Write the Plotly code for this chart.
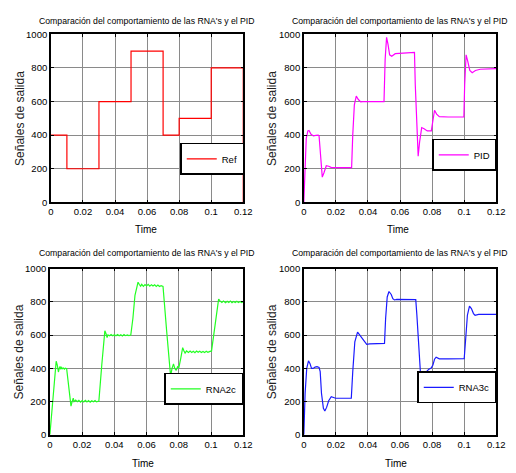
import plotly.graph_objects as go

# ---------------- data ----------------
ref_step_t = [0, 0.01, 0.03, 0.05, 0.07, 0.08, 0.10, 0.12, 0.12]
ref_step_v = [400, 200, 600, 900, 400, 500, 800, 800, 0]

pid_t = [0, 0.0008, 0.0015, 0.0025, 0.0032, 0.0045, 0.006, 0.0075, 0.009, 0.0095,
         0.0105, 0.0115, 0.0125, 0.014, 0.0155, 0.017, 0.02, 0.025, 0.0298,
         0.0305, 0.0315, 0.0327, 0.034, 0.0355, 0.038, 0.045, 0.05,
         0.0507, 0.0516, 0.0525, 0.0535, 0.0548, 0.057, 0.062, 0.069,
         0.0695, 0.0705, 0.0713, 0.0722, 0.0735, 0.075, 0.077, 0.0795,
         0.0805, 0.0815, 0.0828, 0.0845, 0.09, 0.0998,
         0.1003, 0.1012, 0.1022, 0.1035, 0.105, 0.107, 0.11, 0.115, 0.12]
pid_v = [0, 250, 380, 425, 428, 405, 395, 398, 400, 395,
         250, 150, 175, 218, 215, 208, 206, 205, 206,
         400, 580, 632, 612, 598, 600, 600, 600,
         850, 982, 940, 878, 870, 885, 888, 892,
         700, 400, 275, 360, 445, 438, 425, 425,
         500, 548, 525, 510, 508, 508,
         700, 878, 840, 785, 772, 785, 792, 794, 796]

rna2_t = [0, 0.0015, 0.0032, 0.0039, 0.0046, 0.0053, 0.0058, 0.0063, 0.0068, 0.0073,
          0.0078, 0.0085, 0.009, 0.0096, 0.0104, 0.0118, 0.0131, 0.0138, 0.0145,
          0.015, 0.016, 0.017, 0.018, 0.019, 0.020, 0.021, 0.022, 0.023, 0.024,
          0.025, 0.026, 0.027, 0.028, 0.029, 0.0304,
          0.0322, 0.0341, 0.0348, 0.0355, 0.036, 0.037, 0.038, 0.039, 0.040,
          0.041, 0.042, 0.043, 0.044, 0.045, 0.046, 0.047, 0.048, 0.049, 0.0502,
          0.0515, 0.0528, 0.0538, 0.0547, 0.0555, 0.0563, 0.057, 0.058, 0.059,
          0.060, 0.061, 0.062, 0.063, 0.064, 0.065, 0.066, 0.067, 0.068, 0.069,
          0.0702, 0.0725, 0.0749, 0.0758, 0.0767, 0.0775, 0.0784, 0.0792, 0.080,
          0.0812, 0.0824, 0.0832, 0.0839, 0.0848, 0.086, 0.087, 0.088, 0.089,
          0.090, 0.091, 0.092, 0.093, 0.094, 0.095, 0.096, 0.097, 0.098, 0.099,
          0.1003, 0.1025, 0.1047, 0.1057, 0.1067, 0.1077, 0.109, 0.110, 0.111,
          0.112, 0.113, 0.114, 0.115, 0.116, 0.117, 0.118, 0.119, 0.120]
rna2_v = [0, 170, 410, 443, 420, 378, 400, 411, 395, 405,
          398, 402, 396, 401, 398, 280, 173, 200, 220,
          200, 209, 199, 207, 197, 206, 198, 208, 198, 206,
          197, 205, 199, 206, 198, 203,
          420, 626, 610, 585, 602, 596, 604, 597, 603,
          596, 604, 597, 603, 595, 604, 597, 602, 598, 601,
          700, 840, 890, 919, 905, 895, 906, 894, 905,
          896, 906, 895, 904, 896, 903, 894, 902, 893, 898,
          893, 620, 354, 400, 427, 400, 388, 410, 403,
          460, 525, 505, 492, 505, 496, 504, 496, 503,
          495, 504, 497, 503, 496, 502, 495, 503, 497, 501,
          505, 660, 817, 805, 797, 806, 796, 804, 797,
          805, 796, 803, 797, 804, 796, 803, 797, 801]

rna3_t = [0, 0.0008, 0.0018, 0.0029, 0.0038, 0.0048, 0.0058, 0.007, 0.0082, 0.0095,
          0.0102, 0.011, 0.0122, 0.0131, 0.0142, 0.0155, 0.0171, 0.0185, 0.0198,
          0.025, 0.0296, 0.0305, 0.0318, 0.0335, 0.035, 0.0367, 0.038, 0.0392,
          0.041, 0.045, 0.0503, 0.051, 0.052, 0.0531, 0.0545, 0.0555, 0.0565,
          0.058, 0.065, 0.0698, 0.0705, 0.0718, 0.073, 0.0739, 0.0752, 0.0767,
          0.078, 0.0794, 0.0805, 0.0815, 0.0825, 0.0845, 0.09, 0.1, 0.1008,
          0.102, 0.1033, 0.1045, 0.1058, 0.1068, 0.109, 0.12]
rna3_v = [0, 250, 400, 445, 430, 400, 400, 408, 410, 405,
          380, 250, 160, 143, 165, 205, 229, 222, 220,
          220, 220, 380, 560, 618, 600, 582, 560, 545,
          547, 549, 550, 700, 830, 863, 845, 820, 812,
          815, 815, 814, 720, 500, 330, 300, 340, 382,
          395, 402, 420, 455, 467, 457, 457, 458, 560,
          720, 775, 760, 730, 720, 725, 725]

x_ticks = [0, 0.02, 0.04, 0.06, 0.08, 0.1, 0.12]
y_ticks = [0, 200, 400, 600, 800, 1000]
title_text = "Comparación del comportamiento de las RNA's y el PID"
ylabel_text = "Señales de salida"
xlabel_text = "Time"

# ---------------- layout geometry (pixels) ----------------
W, H = 516, 473
FONT = "Liberation Sans, Arial, sans-serif"

panels = [
    dict(box=(49, 246, 29, 201), name="Ref", color="#ff0000",
         t=ref_step_t, v=ref_step_v, shape="hv",
         leg=(247, 156.5), title_y=15, xlab=(146, 229), ylab=(18, 115)),
    dict(box=(308, 505, 29, 201), name="PID", color="#ff00ff",
         t=pid_t, v=pid_v, shape="linear",
         leg=(505, 152.5), title_y=15, xlab=(404, 229), ylab=(276, 115)),
    dict(box=(48, 246, 269, 439), name="RNA2c", color="#22ff22",
         t=rna2_t, v=rna2_v, shape="linear",
         leg=(246, 392), title_y=253, xlab=(143, 468), ylab=(16, 354)),
    dict(box=(308, 505, 269, 439), name="RNA3c", color="#1a1aff",
         t=rna3_t, v=rna3_v, shape="linear",
         leg=(505, 390.5), title_y=253, xlab=(402, 468), ylab=(275, 354)),
]

fig = go.Figure()
annotations = []
layout = dict(width=W, height=H, autosize=False,
              margin=dict(l=0, r=0, t=0, b=0),
              paper_bgcolor="white", plot_bgcolor="white",
              showlegend=True)

for i, p in enumerate(panels, start=1):
    x0, x1, y0, y1 = p["box"]
    xa = "x" if i == 1 else f"x{i}"
    ya = "y" if i == 1 else f"y{i}"
    lg = "legend" if i == 1 else f"legend{i}"
    fig.add_trace(go.Scatter(
        x=p["t"], y=p["v"], mode="lines", name=p["name"],
        line=dict(color=p["color"], width=1.2, shape=p["shape"]),
        xaxis=xa, yaxis=ya, legend=lg))
    axis_common = dict(showline=True, linecolor="black", linewidth=1.5,
                       mirror="ticks", ticks="inside", ticklen=3,
                       tickcolor="black", showgrid=True,
                       gridcolor="#8a8a8a", gridwidth=1, zeroline=False,
                       tickfont=dict(family=FONT, size=9.5, color="black"))
    layout["xaxis" if i == 1 else f"xaxis{i}"] = dict(
        axis_common, domain=[x0 / W, x1 / W], range=[0, 0.12],
        tickvals=x_ticks, anchor=ya)
    layout["yaxis" if i == 1 else f"yaxis{i}"] = dict(
        axis_common, domain=[1 - y1 / H, 1 - y0 / H], range=[0, 1000],
        tickvals=y_ticks, anchor=xa)
    lx, ly = p["leg"]
    layout[lg] = dict(x=lx / W, xanchor="right", y=1 - ly / H, yanchor="middle",
                      bgcolor="white", bordercolor="black", borderwidth=1.5,
                      font=dict(family=FONT, size=9.5, color="black"),
                      itemwidth=30)
    cx = (x0 + x1) / 2
    annotations.append(dict(text=title_text, x=cx / W, y=1 - p["title_y"] / H,
                            xref="paper", yref="paper", showarrow=False,
                            xanchor="center", yanchor="middle",
                            font=dict(family=FONT, size=8.7, color="black")))
    annotations.append(dict(text=xlabel_text, x=p["xlab"][0] / W, y=1 - p["xlab"][1] / H,
                            xref="paper", yref="paper", showarrow=False,
                            xanchor="center", yanchor="middle",
                            font=dict(family=FONT, size=10, color="black")))
    annotations.append(dict(text=ylabel_text, x=p["ylab"][0] / W, y=1 - p["ylab"][1] / H,
                            xref="paper", yref="paper", showarrow=False,
                            xanchor="center", yanchor="middle", textangle=-90,
                            font=dict(family=FONT, size=12, color="#222222")))

layout["annotations"] = annotations
fig.update_layout(**layout)
fig.write_html("out.html")
